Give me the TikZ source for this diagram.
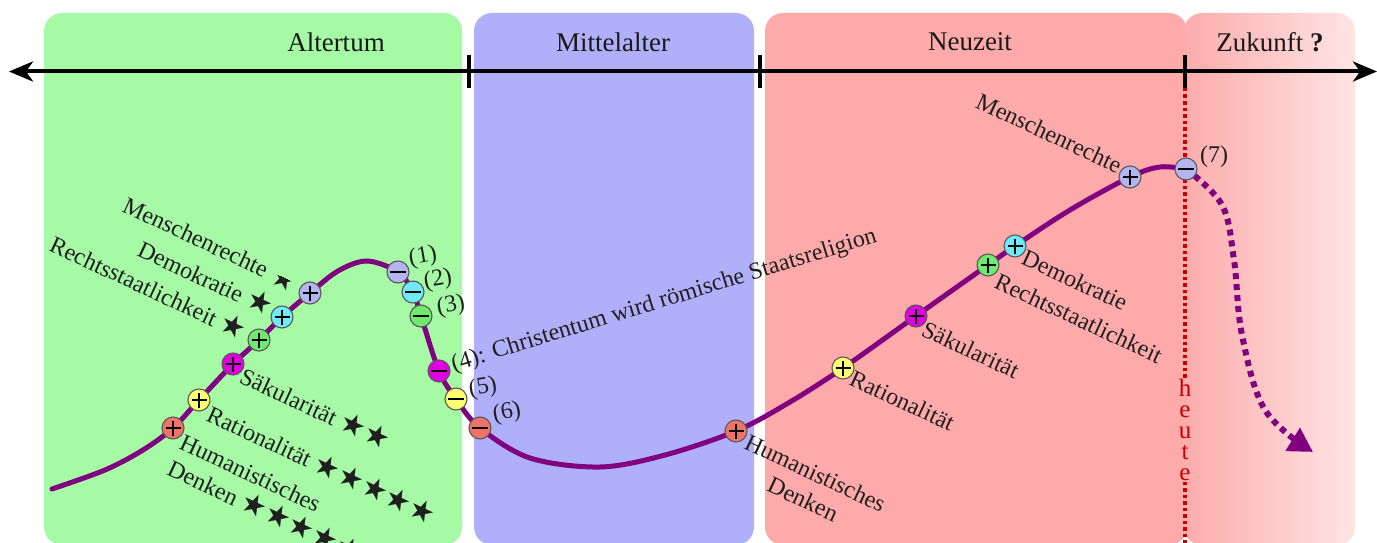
\documentclass[tikz,border=0pt]{standalone}
\usepackage{fontspec}
\setmainfont{Liberation Serif}
\newfontfamily\symf{DejaVu Sans}
\usetikzlibrary{arrows.meta,calc}
\definecolor{pgreen}{RGB}{166,250,166}
\definecolor{pblue}{RGB}{175,175,250}
\definecolor{ppink}{RGB}{255,170,170}
\definecolor{futL}{RGB}{252,172,172}
\definecolor{futR}{RGB}{255,228,228}
\definecolor{curvec}{RGB}{128,0,128}
\definecolor{cSalmon}{RGB}{240,115,105}
\definecolor{cYellow}{RGB}{255,255,115}
\definecolor{cMagenta}{RGB}{225,0,225}
\definecolor{cGreen}{RGB}{110,235,110}
\definecolor{cCyan}{RGB}{110,235,250}
\definecolor{cLav}{RGB}{180,180,240}
\definecolor{heutec}{RGB}{200,0,0}
\newcommand\mystars[1]{\smash{\symf\fontsize{29}{29}\selectfont #1}}
\tikzset{
  panel/.style={rounded corners=18pt, draw=none},
  head/.style={font=\fontsize{27}{30}\selectfont, text=black!90},
  lab/.style={font=\fontsize{24}{29}\selectfont, inner sep=0pt, text=black!88},
  numlab/.style={font=\fontsize{24}{29}\selectfont, inner sep=0pt, text=black!88, rotate=10},
  dotcirc/.style={circle, draw=black!65, line width=1.1pt, minimum size=22pt, inner sep=0pt, fill=#1},
  pluscirc/.style={dotcirc=#1, path picture={
      \draw[line width=2pt,black] ([xshift=-7.5pt]path picture bounding box.center) -- ([xshift=7.5pt]path picture bounding box.center);
      \draw[line width=2pt,black] ([yshift=-7.5pt]path picture bounding box.center) -- ([yshift=7.5pt]path picture bounding box.center);}},
  minuscirc/.style={dotcirc=#1, path picture={
      \draw[line width=2.6pt,black] ([xshift=-8pt]path picture bounding box.center) -- ([xshift=8pt]path picture bounding box.center);}},
  tickmark/.style={line width=4pt, black},
  heuteline/.style={heutec, line width=3.5pt, dash pattern=on 3.5pt off 3pt},
}
\begin{document}
\begin{tikzpicture}[x=1pt,y=-1pt]
\useasboundingbox (0,0) rectangle (1377,543);
\fill[white] (0,0) rectangle (1377,543);
% panels
\fill[panel, pgreen] (44,13) rectangle (462,545);
\fill[panel, pblue] (474,13) rectangle (754,545);
\fill[panel, ppink] (765,13) rectangle (1187,545);
\shade[panel, left color=futL, right color=futR] (1184,13) rectangle (1355,545);
% headings
\node[head] (hA) at (336,42) {Altertum};
\node[head] (hM) at (613,42) {Mittelalter};
\node[head] (hN) at (970,42) {Neuzeit};
\node[head] (hZ) at (1270,42) {Zukunft \textbf{?}};
% axis
\coordinate (axL) at (9,71.5);
\coordinate (axR) at (1377,71.5);
\draw[line width=4pt, {Stealth[length=24pt,width=20pt,inset=7pt]}-{Stealth[length=24pt,width=20pt,inset=7pt]}] (axL) -- (axR);
\coordinate (t1a) at (469,55); \coordinate (t1b) at (469,88);
\coordinate (t2a) at (760,55); \coordinate (t2b) at (760,88);
\coordinate (t3a) at (1185,55); \coordinate (t3b) at (1185,88);
\draw[tickmark] (t1a) -- (t1b);
\draw[tickmark] (t2a) -- (t2b);
\draw[tickmark] (t3a) -- (t3b);
% heute
\node[font=\fontsize{25}{21}\selectfont, text=heutec, align=center, inner sep=1pt] (heute) at (1185,430) {h\\e\\u\\t\\e};
\draw[heuteline] (t3b) -- (heute.north);
\draw[heuteline] (heute.south) -- (1185,545);
% curve points
\coordinate (start) at (52,489);
\coordinate (h1) at (173,428);
\coordinate (r1) at (199,400);
\coordinate (s1) at (233,364);
\coordinate (rs1) at (259,340);
\coordinate (d1) at (282,317);
\coordinate (mr1) at (310,293);
\coordinate (m1) at (398,272);
\coordinate (m2) at (413,292);
\coordinate (m3) at (421,316);
\coordinate (m4) at (439,371);
\coordinate (m5) at (456,399);
\coordinate (m6) at (480,428);
\coordinate (h2) at (736,431);
\coordinate (r2) at (843,368);
\coordinate (s2) at (916,316);
\coordinate (rs2) at (988,265);
\coordinate (d2) at (1015,246);
\coordinate (mr2) at (1130,177);
\coordinate (m7) at (1186,169);
\coordinate (fut) at (1313,452);
\draw[curvec, line width=5pt, line cap=round] plot[smooth, tension=0.55] coordinates {
 (start) (105,470) (143,450) (h1) (r1) (s1) (rs1) (d1) (mr1) (338,271) (367,261) (m1) (m2) (m3) (m4) (m5) (m6)
 (530,458) (600,467) (665,455) (h2) (790,402) (r2) (s2) (rs2) (d2) (1070,210) (mr2) (1160,167) (m7)};
\draw[curvec, line width=6pt, dash pattern=on 6pt off 5pt, -{Triangle[length=24pt,width=26pt]}] plot[smooth, tension=0.6] coordinates {(m7) (1222,205) (1234,260) (1242,335) (1265,410) (fut)};
% circles left
\node[pluscirc=cSalmon] (H1) at (h1) {};
\node[pluscirc=cYellow] (R1) at (r1) {};
\node[pluscirc=cMagenta] (S1) at (s1) {};
\node[pluscirc=cGreen] (RS1) at (rs1) {};
\node[pluscirc=cCyan] (D1) at (d1) {};
\node[pluscirc=cLav] (MR1) at (mr1) {};
\node[minuscirc=cLav] (M1) at (m1) {};
\node[minuscirc=cCyan] (M2) at (m2) {};
\node[minuscirc=cGreen] (M3) at (m3) {};
\node[minuscirc=cMagenta] (M4) at (m4) {};
\node[minuscirc=cYellow] (M5) at (m5) {};
\node[minuscirc=cSalmon] (M6) at (m6) {};
% circles right
\node[pluscirc=cSalmon] (H2) at (h2) {};
\node[pluscirc=cYellow] (R2) at (r2) {};
\node[pluscirc=cMagenta] (S2) at (s2) {};
\node[pluscirc=cGreen] (RS2) at (rs2) {};
\node[pluscirc=cCyan] (D2) at (d2) {};
\node[pluscirc=cLav] (MR2) at (mr2) {};
\node[minuscirc=cLav] (M7) at (m7) {};
% left labels
\node[lab, rotate=-25, anchor=north west] (lMR) at (128,196) {Menschenrechte};
\begin{scope}
\clip[rotate around={-25:(285,277)}] (268,278) rectangle (304,300);
\node[lab, rotate=-25] (lMRs) at (280,288) {\mystars{★}};
\end{scope}
\node[lab, rotate=-25, anchor=north west] (lD) at (143,240) {Demokratie \mystars{★}};
\node[lab, rotate=-25, anchor=north west] (lRS) at (55,235) {Rechtsstaatlichkeit \mystars{★}};
\node[lab, rotate=-25, anchor=north west] (lS) at (245,367) {Säkularität \mystars{★★}};
\node[lab, rotate=-25, anchor=north west] (lR) at (212,405) {Rationalität \mystars{★★★★★}};
\node[lab, rotate=-25, anchor=north west, align=left] (lH) at (185,433) {Humanistisches\\Denken \mystars{★★★★★}};
% minus labels
\node[numlab] (n1) at (423,257) {(1)};
\node[numlab] (n2) at (438,280) {(2)};
\node[numlab] (n3) at (451,306) {(3)};
\node[lab, rotate=17, anchor=west] (n4) at (452,366) {(4): Christentum wird römische Staatsreligion};
\node[numlab] (n5) at (483,388) {(5)};
\node[numlab] (n6) at (507,413) {(6)};
\node[lab] (n7) at (1214,157) {(7)};
% right labels
\node[lab, rotate=-25, anchor=north west, align=center] (rH) at (750,433) {Humanistisches\\Denken};
\node[lab, rotate=-25, anchor=north west] (rR) at (855,369) {Rationalität};
\node[lab, rotate=-25, anchor=north west] (rS) at (927,320) {Säkularität};
\node[lab, rotate=-25, anchor=north west] (rRS) at (1000,272) {Rechtsstaatlichkeit};
\node[lab, rotate=-25, anchor=north west] (rD) at (1027,248) {Demokratie};
\node[lab, rotate=-25, anchor=south east] (rMR) at (1117,174) {Menschenrechte};
\end{tikzpicture}
\end{document}
